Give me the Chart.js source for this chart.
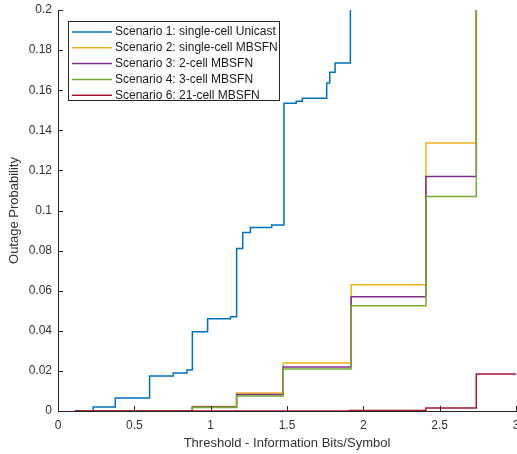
<!DOCTYPE html>
<html>
<head>
<meta charset="utf-8">
<script src="https://cdn.jsdelivr.net/npm/chart.js@4.4.0/dist/chart.umd.min.js"></script>
<style>
    html, body { margin: 0; padding: 0; background: #fff; }
    #wrap { width: 517px; height: 454px; position: relative; }
</style>
</head>
<body>
<div id="wrap"><canvas id="outageChart"></canvas></div>
<script>
// step points: x = where the value changes, y = the new value
const seriesNames = [
    'Scenario 1: single-cell Unicast',
    'Scenario 2: single-cell MBSFN',
    'Scenario 3: 2-cell MBSFN',
    'Scenario 4: 3-cell MBSFN',
    'Scenario 6: 21-cell MBSFN'
];
const seriesColors = ['#0072BD', '#EDB120', '#7E2F8E', '#77AC30', '#A2142F'];

const s1X = [0.11, 0.23, 0.375, 0.60, 0.755, 0.845, 0.88, 0.98, 1.13, 1.17, 1.21, 1.26, 1.40, 1.48, 1.56, 1.60, 1.76, 1.78, 1.815, 1.915];
const s1Y = [0, 0.002, 0.0065, 0.0175, 0.019, 0.0205, 0.0395, 0.046, 0.047, 0.081, 0.089, 0.0915, 0.0928, 0.1535, 0.1545, 0.156, 0.1636, 0.169, 0.1736, 0.2];

const mbsfnX = [0.11, 0.88, 1.17, 1.475, 1.92, 2.41, 2.74];
const s2Y = [0, 0.0022, 0.009, 0.0239, 0.063, 0.1337, 0.2];
const s3Y = [0, 0.002, 0.0082, 0.022, 0.057, 0.117, 0.2];
const s4Y = [0, 0.0018, 0.0075, 0.021, 0.0525, 0.107, 0.2];

const s6X = [0.11, 1.91, 2.41, 2.74, 3.0];
const s6Y = [0, 0.0003, 0.0015, 0.0185, 0.0185];

const xTicks = [0, 0.5, 1, 1.5, 2, 2.5, 3];
const yTicks = [0, 0.02, 0.04, 0.06, 0.08, 0.1, 0.12, 0.14, 0.16, 0.18, 0.2];

const axisColor = '#262626';
const fontFamily = '"Liberation Sans", Arial, Helvetica, sans-serif';

function toPoints(xs, ys) {
    return xs.map((x, i) => ({ x: x, y: ys[i] }));
}

function fmt(v) {
    return String(+v.toFixed(2));
}

// MATLAB style ticks pointing into the plot
const inwardTicks = {
    id: 'inwardTicks',
    afterDraw(chart) {
        const ctx = chart.ctx;
        const xs = chart.scales.x;
        const ys = chart.scales.y;
        const area = chart.chartArea;
        ctx.save();
        ctx.strokeStyle = axisColor;
        ctx.lineWidth = 1;
        ctx.beginPath();
        xTicks.forEach(v => {
            const px = Math.round(xs.getPixelForValue(v)) + 0.5;
            ctx.moveTo(px, area.bottom);
            ctx.lineTo(px, area.bottom - 5);
        });
        yTicks.forEach(v => {
            const py = Math.round(ys.getPixelForValue(v)) + 0.5;
            ctx.moveTo(area.left, py);
            ctx.lineTo(area.left + 5, py);
        });
        ctx.stroke();
        ctx.restore();
    }
};

// legend box inside the axes, top left
const boxLegend = {
    id: 'boxLegend',
    afterDraw(chart) {
        const ctx = chart.ctx;
        const left = 68, top = 21, w = 211, h = 79;
        ctx.save();
        ctx.fillStyle = '#fff';
        ctx.fillRect(left, top, w, h);
        ctx.strokeStyle = '#262626';
        ctx.lineWidth = 1;
        ctx.strokeRect(left + 0.5, top + 0.5, w, h);
        ctx.font = '12px ' + fontFamily;
        ctx.textBaseline = 'middle';
        ctx.fillStyle = '#1a1a1a';
        seriesNames.forEach((name, i) => {
            const y = top + 11 + i * 15.8;
            ctx.strokeStyle = seriesColors[i];
            ctx.lineWidth = 1.5;
            ctx.beginPath();
            ctx.moveTo(left + 4, y);
            ctx.lineTo(left + 44, y);
            ctx.stroke();
            ctx.fillText(name, left + 47, y);
        });
        ctx.restore();
    }
};

document.addEventListener('DOMContentLoaded', function() {
    const ctx = document.getElementById('outageChart').getContext('2d');

    const allX = [s1X, mbsfnX, mbsfnX, mbsfnX, s6X];
    const allY = [s1Y, s2Y, s3Y, s4Y, s6Y];

    const datasets = seriesNames.map((name, i) => ({
        label: name,
        data: toPoints(allX[i], allY[i]),
        borderColor: seriesColors[i],
        backgroundColor: seriesColors[i],
        borderWidth: 1.5,
        pointRadius: 0,
        showLine: true,
        stepped: 'before',
        fill: false,
        order: seriesNames.length - i
    }));

    const config = {
        type: 'scatter',
        data: { datasets: datasets },
        options: {
            responsive: true,
            maintainAspectRatio: false,
            animation: false,
            layout: {
                padding: { top: 10, right: 1, bottom: 0, left: 0 }
            },
            plugins: {
                legend: { display: false },
                tooltip: { enabled: false }
            },
            scales: {
                x: {
                    type: 'linear',
                    min: 0,
                    max: 3,
                    afterBuildTicks: s => { s.ticks = xTicks.map(v => ({ value: v })); },
                    afterFit: s => { s.height = 43; s.paddingLeft = 0; s.paddingRight = 0; },
                    grid: { display: true, drawOnChartArea: false, drawTicks: false },
                    border: { display: true, color: axisColor, width: 1 },
                    ticks: {
                        color: '#333',
                        padding: 7,
                        maxRotation: 0,
                        font: { size: 12, family: fontFamily },
                        callback: v => fmt(v)
                    },
                    title: {
                        display: true,
                        text: 'Threshold - Information Bits/Symbol',
                        color: '#333',
                        font: { size: 13, family: fontFamily },
                        padding: { top: 0, bottom: 3 }
                    }
                },
                y: {
                    type: 'linear',
                    min: 0,
                    max: 0.2,
                    afterBuildTicks: s => { s.ticks = yTicks.map(v => ({ value: v })); },
                    afterFit: s => { s.width = 58; s.paddingTop = 0; s.paddingBottom = 0; },
                    grid: { display: true, drawOnChartArea: false, drawTicks: false },
                    border: { display: true, color: axisColor, width: 1 },
                    ticks: {
                        color: '#333',
                        padding: 6,
                        font: { size: 12, family: fontFamily },
                        callback: v => fmt(v)
                    },
                    title: {
                        display: true,
                        text: 'Outage Probability',
                        color: '#333',
                        font: { size: 13, family: fontFamily },
                        padding: { top: 7, bottom: 0 }
                    }
                }
            }
        },
        plugins: [inwardTicks, boxLegend]
    };

    new Chart(ctx, config);
});
</script>
</body>
</html>
